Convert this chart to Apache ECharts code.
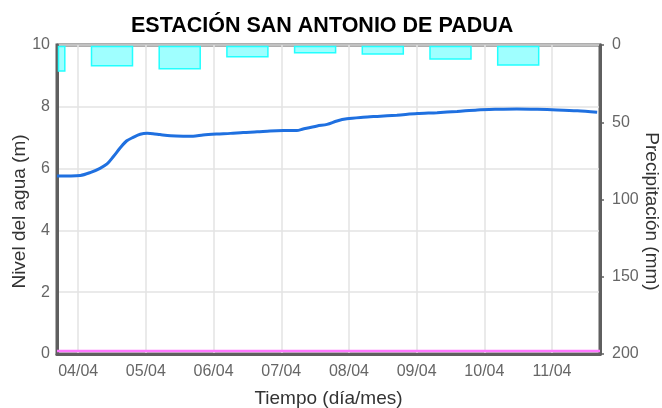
<!DOCTYPE html>
<html>
<head>
<meta charset="utf-8">
<script src="https://cdn.jsdelivr.net/npm/echarts@6/dist/echarts.min.js"></script>
<style>
  html, body { margin: 0; padding: 0; background: #fff; }
  #chart { width: 662px; height: 408px; }
</style>
</head>
<body>
<div id="chart"></div>
<script>
// Water level readings (m)
const levelTimes = [
  '2023-04-03 16:30', '2023-04-04 00:45', '2023-04-04 04:15', '2023-04-04 07:45',
  '2023-04-04 10:15', '2023-04-04 12:30', '2023-04-04 15:00', '2023-04-04 17:15',
  '2023-04-04 19:30', '2023-04-04 22:00', '2023-04-05 00:30', '2023-04-05 02:30',
  '2023-04-05 05:00', '2023-04-05 08:45', '2023-04-05 13:15', '2023-04-05 16:45',
  '2023-04-05 20:15', '2023-04-06 01:15', '2023-04-06 06:00', '2023-04-06 10:30',
  '2023-04-06 15:30', '2023-04-06 20:00', '2023-04-07 00:45', '2023-04-07 05:30',
  '2023-04-07 07:45', '2023-04-07 12:45', '2023-04-07 16:15', '2023-04-07 19:45',
  '2023-04-07 23:15', '2023-04-08 05:00', '2023-04-08 10:00', '2023-04-08 17:00',
  '2023-04-09 00:10', '2023-04-09 07:15', '2023-04-09 14:20', '2023-04-09 21:30',
  '2023-04-10 04:30', '2023-04-10 11:30', '2023-04-10 18:45', '2023-04-11 01:45',
  '2023-04-11 09:00', '2023-04-11 16:00'
];
const levelValues = [
  5.76, 5.78, 5.87, 6.01,
  6.15, 6.39, 6.68, 6.90,
  7.01, 7.11, 7.14, 7.13,
  7.10, 7.06, 7.05, 7.05,
  7.09, 7.12, 7.14, 7.17,
  7.19, 7.22, 7.23, 7.23,
  7.28, 7.38, 7.43, 7.54,
  7.61, 7.66, 7.69, 7.73,
  7.78, 7.81, 7.85, 7.90,
  7.92, 7.93, 7.92, 7.90,
  7.87, 7.82
];

// Daily precipitation (mm), plotted at midday
const rainTimes = [
  '2023-04-03 12:00', '2023-04-04 12:00', '2023-04-05 12:00', '2023-04-06 12:00',
  '2023-04-07 12:00', '2023-04-08 12:00', '2023-04-09 12:00', '2023-04-10 12:00'
];
const rainValues = [16.8, 13.4, 15.3, 7.6, 5.0, 5.8, 9.1, 12.9];

// Reference level line (m)
const refTimes = ['2023-04-03 16:30', '2023-04-11 17:00'];
const refValues = [0.1, 0.1];

// Axis settings
const timeMin = '2023-04-03 16:30';
const timeMax = '2023-04-11 17:00';
const levelTicks = [0, 2, 4, 6, 8, 10];
const rainTicks = [0, 50, 100, 150, 200];

const DAY = 86400000;
const BAR_WIDTH = 41;
const FRAME = 3;
const FRAME_COLOR = '#5f5f5f';
const pad = n => (n < 10 ? '0' : '') + n;
const toMs = s => {
  const [d, t] = s.split(' ');
  const [y, mo, da] = d.split('-').map(Number);
  const [h, mi] = t.split(':').map(Number);
  return new Date(y, mo - 1, da, h, mi).getTime();
};
const zip = (a, b) => a.map((t, i) => [toMs(t), b[i]]);

const chart = echarts.init(document.getElementById('chart'), null, { renderer: 'canvas' });
const fontFamily = '"Liberation Sans", Arial, sans-serif';
const xMin = toMs(timeMin);
const xMax = toMs(timeMax);

// Precipitation bars hang from the top of the inverted rain axis and are clipped
// to the inside of the plot frame
function renderRainBar(params, api) {
  const t = api.value(0);
  const v = api.value(1);
  const p0 = api.coord([t, 0]);
  const p1 = api.coord([t, v]);
  const cs = params.coordSys;
  const inset = FRAME / 2;
  const rect = echarts.graphic.clipRectByRect(
    { x: p0[0] - BAR_WIDTH / 2, y: Math.min(p0[1], p1[1]), width: BAR_WIDTH, height: Math.abs(p1[1] - p0[1]) },
    { x: cs.x + inset, y: cs.y + inset, width: cs.width - 2 * inset, height: cs.height - 2 * inset }
  );
  if (!rect) return null;
  return {
    type: 'rect',
    shape: rect,
    style: { fill: 'rgba(80,255,255,0.55)', stroke: '#22ffff', lineWidth: 1.5 }
  };
}

chart.setOption({
  animation: false,
  backgroundColor: '#fff',
  textStyle: { fontFamily },
  title: {
    text: 'ESTACIÓN SAN ANTONIO DE PADUA',
    left: 126,
    top: 10,
    textStyle: { fontSize: 21.5, fontWeight: 'bold', color: '#000', fontFamily }
  },
  grid: {
    left: 57, right: 62, top: 45, bottom: 54,
    outerBoundsMode: 'none',
    containLabel: false,
    show: true, borderColor: FRAME_COLOR, borderWidth: FRAME, backgroundColor: 'transparent'
  },
  xAxis: {
    type: 'time',
    min: xMin,
    max: xMax,
    minInterval: DAY,
    maxInterval: DAY,
    name: 'Tiempo (día/mes)',
    nameLocation: 'middle',
    nameMoveOverlap: false,
    nameGap: 35,
    nameTextStyle: { fontSize: 19, color: '#333', fontFamily },
    axisLine: { show: true, onZero: false, lineStyle: { color: FRAME_COLOR, width: FRAME } },
    axisTick: { show: false },
    axisLabel: {
      color: '#666', fontSize: 16, margin: 10, fontFamily,
      showMinLabel: false, showMaxLabel: false,
      formatter: v => { const d = new Date(v); return pad(d.getDate()) + '/' + pad(d.getMonth() + 1); }
    },
    splitLine: { show: true, lineStyle: { color: '#e3e3e3', width: 1.5 } }
  },
  yAxis: [
    {
      type: 'value',
      min: levelTicks[0], max: levelTicks[levelTicks.length - 1], interval: 2,
      name: 'Nivel del agua (m)',
      nameLocation: 'middle',
      nameMoveOverlap: false,
      nameGap: 28,
      nameTextStyle: { fontSize: 19, color: '#333', fontFamily, padding: [0, 24, 0, 0] },
      axisLine: { show: true, lineStyle: { color: FRAME_COLOR, width: FRAME } },
      axisTick: { show: false },
      axisLabel: { color: '#666', fontSize: 16, margin: 7, fontFamily },
      splitLine: { show: true, lineStyle: { color: '#e3e3e3', width: 1.5 } }
    },
    {
      type: 'value',
      position: 'right',
      inverse: true,
      min: rainTicks[0], max: rainTicks[rainTicks.length - 1], interval: 50,
      name: 'Precipitación (mm)',
      nameLocation: 'middle',
      nameMoveOverlap: false,
      nameRotate: -90,
      nameGap: 42,
      nameTextStyle: { fontSize: 19, color: '#333', fontFamily, padding: [0, 0, 0, 24] },
      axisLine: { show: true, lineStyle: { color: FRAME_COLOR, width: FRAME } },
      axisTick: { show: true, length: 4, lineStyle: { color: FRAME_COLOR, width: 1.5 } },
      axisLabel: { color: '#666', fontSize: 16, margin: 12, fontFamily },
      splitLine: { show: false }
    }
  ],
  series: [
    {
      name: 'Precipitación',
      type: 'custom',
      xAxisIndex: 0,
      yAxisIndex: 1,
      renderItem: renderRainBar,
      encode: { x: 0, y: 1 },
      data: zip(rainTimes, rainValues),
      z: 2
    },
    {
      name: 'Nivel de referencia',
      type: 'line',
      yAxisIndex: 0,
      data: zip(refTimes, refValues),
      symbol: 'none',
      lineStyle: { color: '#ff77ff', width: 2.5 },
      z: 3
    },
    {
      name: 'Nivel del agua',
      type: 'line',
      yAxisIndex: 0,
      data: zip(levelTimes, levelValues),
      symbol: 'none',
      smooth: 0.3,
      lineStyle: { color: '#1f70e0', width: 3 },
      z: 4
    }
  ]
});
</script>
</body>
</html>
